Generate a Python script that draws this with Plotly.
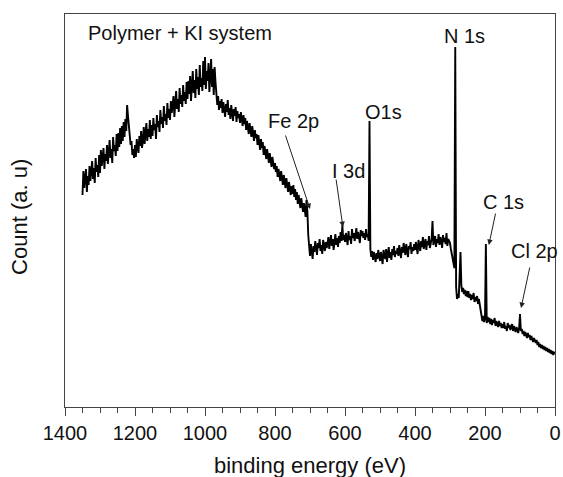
import numpy as np
import plotly.graph_objects as go

# Binding-energy grid of the survey scan (eV), 2.5 eV steps from 1350 down to 0
binding_energy = np.linspace(1350, 0, 541)

# Survey counts (arbitrary units), one row per 50 eV, from 1350 eV downwards
counts = [
    212, 236, 219, 229, 238, 215, 231, 222, 241, 226, 233, 246, 228, 239, 224, 249, 235, 242, 230, 252,  # 1350
    234, 257, 241, 250, 259, 238, 253, 246, 262, 243, 255, 267, 249, 258, 244, 270, 256, 262, 251, 273,  # 1300
    256, 274, 260, 279, 263, 281, 266, 285, 270, 288, 276, 302, 291, 279, 270, 262, 266, 252, 258, 249,  # 1250
    262, 250, 268, 258, 254, 271, 261, 276, 259, 266, 280, 263, 272, 284, 266, 278, 270, 287, 268, 282,  # 1200
    271, 289, 277, 283, 268, 292, 280, 286, 275, 297, 283, 290, 279, 301, 286, 293, 282, 304, 289, 298,  # 1150
    287, 306, 294, 300, 311, 290, 304, 316, 298, 308, 295, 319, 303, 312, 300, 322, 306, 315, 303, 325,  # 1100
    308, 326, 313, 331, 306, 320, 336, 314, 327, 309, 338, 318, 330, 312, 342, 320, 329, 316, 346, 322,  # 1050
    350, 318, 336, 326, 344, 315, 331, 348, 320, 338, 312, 340, 325, 309, 302, 311, 297, 306, 299, 308,  # 1000
    294, 305, 297, 290, 303, 295, 307, 292, 299, 288, 302, 294, 286, 298, 291, 300, 285, 296, 289, 293,  # 950
    284, 295, 287, 281, 292, 283, 289, 277, 286, 280, 273, 284, 277, 270, 281, 274, 266, 277, 269, 273,  # 900
    262, 272, 264, 257, 268, 259, 265, 252, 261, 255, 248, 258, 250, 244, 254, 247, 240, 250, 243, 238,  # 850
    244, 235, 241, 230, 238, 233, 226, 236, 228, 222, 232, 225, 219, 229, 221, 215, 225, 218, 212, 221,  # 800
    213, 222, 210, 218, 207, 215, 203, 212, 205, 199, 209, 201, 195, 204, 197, 190, 207, 196, 172, 158,  # 750
    151, 163, 157, 148, 161, 155, 166, 158, 152, 164, 159, 168, 156, 162, 153, 167, 160, 156, 165, 159,  # 700
    163, 170, 158, 166, 172, 161, 168, 157, 165, 173, 162, 169, 160, 171, 164, 175, 166, 182, 167, 172,  # 650
    165, 174, 168, 162, 176, 167, 171, 163, 178, 169, 174, 166, 172, 179, 168, 175, 170, 164, 177, 171,  # 600
    176, 169, 174, 167, 178, 170, 173, 166, 286, 158, 150, 156, 147, 155, 150, 145, 154, 148, 157, 150,  # 550
    146, 155, 150, 143, 157, 151, 148, 158, 145, 153, 160, 149, 155, 147, 158, 152, 161, 150, 156, 153,  # 500
    159, 151, 162, 155, 149, 160, 154, 164, 157, 152, 163, 156, 150, 161, 158, 165, 153, 160, 156, 163,  # 450
    157, 165, 159, 153, 167, 161, 156, 166, 160, 170, 158, 163, 168, 157, 166, 162, 171, 159, 164, 168,  # 400
    186, 162, 167, 171, 160, 168, 164, 173, 162, 170, 166, 159, 172, 165, 169, 163, 174, 161, 168, 165,  # 350
    164, 158, 154, 149, 144, 139, 360, 120, 108, 113, 109, 126, 155, 121, 115, 119, 113, 117, 111, 116,  # 300
    110, 116, 109, 113, 107, 112, 108, 114, 105, 110, 106, 111, 103, 108, 101, 96, 90, 86, 91, 85,      # 250
    88, 163, 84, 90, 85, 89, 83, 88, 82, 87, 84, 89, 81, 86, 83, 80, 86, 81, 84, 79,                     # 200
    83, 79, 85, 78, 81, 76, 84, 79, 82, 77, 80, 83, 76, 81, 78, 75, 80, 77, 74, 79,                      # 150
    93, 76, 78, 73, 76, 71, 75, 72, 69, 74, 70, 72, 67, 71, 68, 65, 69, 66, 64, 67,                      # 100
    62, 65, 60, 63, 59, 62, 58, 61, 57, 60, 56, 59, 55, 58, 54, 57, 53, 56, 52, 55,                      # 50
    53,                                                                                                  # 0
]

# Peak labels: text and its left-middle anchor (eV, counts)
peak_labels = ["Fe 2p", "I 3d", "O1s", "N 1s", "C 1s", "Cl 2p"]
label_x = [826, 643, 549, 323, 211, 132]
label_y = [286, 236, 295, 371, 205, 156]

# Arrows: tip (eV, counts) and tail offset (px)
arrow_x = [700, 606, 189, 97]
arrow_y = [198, 180, 162, 99]
arrow_ax = [-25, -7, 7, 9]
arrow_ay = [-75, -49, -33, -42]

FONT = "Arial, Liberation Sans, sans-serif"
AXIS_COLOR = "#444444"
TEXT_COLOR = "#111111"

fig = go.Figure()
fig.add_trace(go.Scatter(
    x=binding_energy, y=counts, mode="lines",
    line=dict(color="black", width=1.9),
    showlegend=False,
))

annotations = [
    dict(x=1340, y=374, text="Polymer + KI system", showarrow=False,
         xanchor="left", yanchor="middle",
         font=dict(size=20, color=TEXT_COLOR, family=FONT)),
]
for t, lx, ly in zip(peak_labels, label_x, label_y):
    annotations.append(dict(x=lx, y=ly, text=t, showarrow=False,
                            xanchor="left", yanchor="middle",
                            font=dict(size=20, color=TEXT_COLOR, family=FONT)))
for tx, ty, ax, ay in zip(arrow_x, arrow_y, arrow_ax, arrow_ay):
    annotations.append(dict(x=tx, y=ty, text="", showarrow=True,
                            ax=ax, ay=ay, arrowhead=2, arrowsize=1.1,
                            arrowwidth=1, arrowcolor="#222222"))
# axis titles
annotations.append(dict(xref="paper", yref="paper", x=0.5, y=-0.150,
                        text="binding energy (eV)", showarrow=False,
                        xanchor="center", yanchor="middle",
                        font=dict(size=22, color=TEXT_COLOR, family=FONT)))
annotations.append(dict(xref="paper", yref="paper", x=-0.092, y=0.4835,
                        text="Count (a. u)", showarrow=False, textangle=-90,
                        xanchor="center", yanchor="middle",
                        font=dict(size=22, color=TEXT_COLOR, family=FONT)))

fig.update_layout(
    width=563, height=477,
    margin=dict(l=65, r=8, t=14, b=70, autoexpand=False),
    paper_bgcolor="white", plot_bgcolor="white",
    annotations=annotations,
    font=dict(family=FONT, color=TEXT_COLOR),
)
fig.update_xaxes(
    range=[1400, 0], dtick=200, tick0=0, automargin=False,
    showline=True, linecolor=AXIS_COLOR, linewidth=1.3, mirror=True,
    ticks="outside", ticklen=8, tickwidth=1.2, tickcolor=AXIS_COLOR,
    minor=dict(dtick=50, ticks="outside", ticklen=5, tickwidth=1, tickcolor=AXIS_COLOR),
    showgrid=False, zeroline=False,
    tickfont=dict(size=20, color=TEXT_COLOR, family=FONT),
)
fig.update_yaxes(
    range=[0, 393], automargin=False,
    showline=True, linecolor=AXIS_COLOR, linewidth=1.3, mirror=True,
    ticks="", showticklabels=False, showgrid=False, zeroline=False,
)

fig.write_html("out.html")
